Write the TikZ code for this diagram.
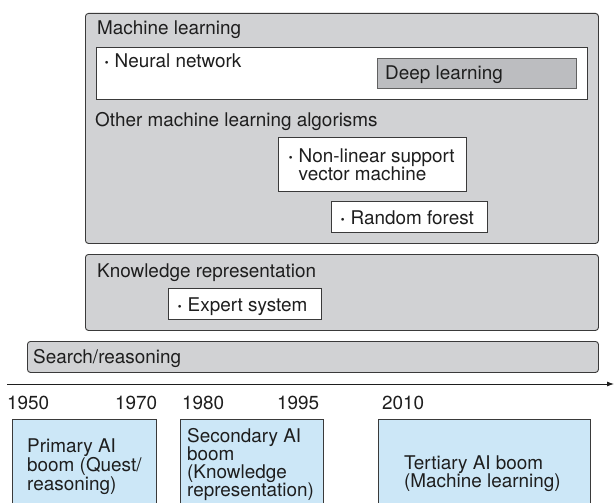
\documentclass[tikz,border=0pt]{standalone}
\usepackage{fontspec}
\setmainfont{TeX Gyre Heros}
\usetikzlibrary{arrows.meta}
\definecolor{panelgrey}{HTML}{D1D2D4}
\definecolor{deepgrey}{HTML}{BCBDC0}
\definecolor{boomblue}{HTML}{CCE7F7}
\definecolor{edge}{HTML}{3A3A3A}
\definecolor{inktext}{HTML}{1E1E1E}
\newcommand{\bul}{\textbf{·}~}
\begin{document}
\begin{tikzpicture}[x=1pt,y=-1pt,
  font=\fontsize{18.9}{17.5}\selectfont, text=inktext,
  panel/.style={draw=edge, fill=panelgrey, rounded corners=3pt, line width=0.9pt, anchor=north west, inner sep=0pt},
  wbox/.style={draw=edge, fill=white, line width=0.9pt, anchor=north west, inner sep=0pt},
  dbox/.style={draw=edge!80, fill=deepgrey, line width=0.9pt, anchor=north west, inner sep=0pt},
  bbox/.style={draw=edge, fill=boomblue, line width=0.9pt, anchor=north west, inner sep=0pt},
  txt/.style={anchor=base west, inner sep=0pt},
  axis/.style={draw=inktext, line width=0.9pt, -{Latex[length=7pt,width=5pt]}}]
\useasboundingbox (0,0) rectangle (614,503);
\fill[white] (0,0) rectangle (614,503);
\begin{scope}
\clip (0,0) rectangle (614,503);
% Machine learning panel
\node[panel, minimum width=513pt, minimum height=230pt] (ml) at (85,13) {};
\node[txt] (mlt) at (97,35) {Machine learning};
\node[wbox, minimum width=491pt, minimum height=52pt] (nn) at (96,47) {};
\node[txt] (nnt) at (104,68) {\bul Neural network};
\node[dbox, minimum width=199pt, minimum height=30pt] (dl) at (377,58) {};
\node[txt] (dlt) at (385,80) {Deep learning};
\node[txt] (oth) at (95,127) {Other machine learning algorisms};
\node[wbox, minimum width=188pt, minimum height=54pt] (svm) at (278,137) {};
\node[txt] (svmt) at (288,162) {\parbox[t]{180pt}{\baselineskip=18pt \bul Non-linear support\\\phantom{\bul}vector machine}};
\node[wbox, minimum width=156pt, minimum height=31pt] (rf) at (331,201) {};
\node[txt] (rft) at (340,224) {\bul Random forest};
% Knowledge representation panel
\node[panel, minimum width=513pt, minimum height=76pt] (kr) at (85,254) {};
\node[txt] (krt) at (97,277) {Knowledge representation};
\node[wbox, minimum width=153pt, minimum height=31pt] (es) at (168,288) {};
\node[txt] (est) at (177,311) {\bul Expert system};
% Search/reasoning panel
\node[panel, minimum width=571pt, minimum height=31pt] (sr) at (27,341) {};
\node[txt] (srt) at (33,363) {Search/reasoning};
% timeline
\coordinate (t0) at (7,384);
\coordinate (t1) at (614,384);
\draw[axis] (t0) -- (t1);
\node[txt] (y1950) at (7,409) {1950};
\node[txt] (y1970) at (115,409) {1970};
\node[txt] (y1980) at (182,409) {1980};
\node[txt] (y1995) at (277,409) {1995};
\node[txt] (y2010) at (382,409) {2010};
% booms
\node[bbox, minimum width=144pt, minimum height=95pt] (b1) at (12,419) {};
\node[txt] (b1t) at (27,452) {\parbox[t]{130pt}{\baselineskip=17.5pt Primary AI\\boom (Quest/\\reasoning)}};
\node[bbox, minimum width=143pt, minimum height=95pt] (b2) at (180,419) {};
\node[txt] (b2t) at (187,442) {\parbox[t]{135pt}{\baselineskip=18pt Secondary AI\\boom\\(Knowledge\\representation)}};
\node[bbox, minimum width=212pt, minimum height=95pt] (b3) at (378,419) {};
\node[txt] (b3t) at (404,469) {\parbox[t]{180pt}{\baselineskip=18pt Tertiary AI boom\\(Machine learning)}};
\end{scope}
\end{tikzpicture}
\end{document}
